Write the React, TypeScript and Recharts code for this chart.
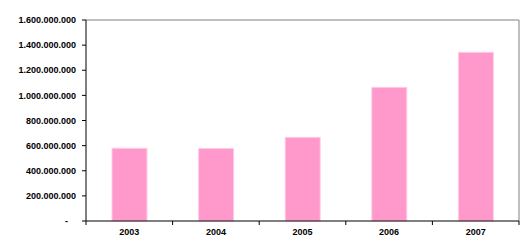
import React from 'react'
import { BarChart, Bar, XAxis, YAxis, CartesianGrid } from 'recharts'

const years = ['2003', '2004', '2005', '2006', '2007']
const amounts = [579000000, 577000000, 666000000, 1064000000, 1343000000]
const yTicks = [0, 200000000, 400000000, 600000000, 800000000, 1000000000, 1200000000, 1400000000, 1600000000]

const data = years.map((year, i) => ({ year, amount: amounts[i] }))

const fmt = (v: number) => (v === 0 ? '-' : String(v).replace(/\B(?=(\d{3})+(?!\d))/g, '.'))

const font = { fontFamily: 'Arial, "Liberation Sans", sans-serif', fontSize: 9, fontWeight: 700 }

function YTick({ x, y, payload }: any) {
  const zero = payload.value === 0
  return (
    <g>
      <line x1={x - 4} x2={x} y1={y} y2={y} stroke="#000" />
      <text x={zero ? x - 18 : x - 10} y={y} dy="0.35em" textAnchor="end" fill="#000" style={font}>
        {fmt(payload.value)}
      </text>
    </g>
  )
}

function XTick({ x, y, payload, index }: any) {
  const half = payload.offset || 0
  return (
    <g>
      <line x1={x - half} x2={x - half} y1={y} y2={y + 4} stroke="#000" />
      {index === years.length - 1 && (
        <line x1={x + half} x2={x + half} y1={y} y2={y + 4} stroke="#000" />
      )}
      <text x={x} y={y + 8} dy="0.71em" textAnchor="middle" fill="#000" style={font}>
        {payload.value}
      </text>
    </g>
  )
}

export default function App() {
  return (
    <div style={{ position: 'absolute', left: 0, top: 0, background: '#fff' }}>
      <BarChart width={531} height={252} data={data} margin={{ top: 20, right: 12, bottom: 11, left: 0 }}>
        {/* grey frame on top and right of the plot area */}
        <CartesianGrid
          stroke="#808080"
          horizontalCoordinatesGenerator={({ offset }: any) => [offset.top]}
          verticalCoordinatesGenerator={({ offset }: any) => [offset.left + offset.width]}
        />
        <XAxis
          dataKey="year"
          height={20}
          axisLine={{ stroke: '#000' }}
          tickLine={false}
          tickSize={0}
          tickMargin={0}
          tick={<XTick />}
          interval={0}
        />
        <YAxis
          width={86}
          domain={[0, 1600000000]}
          ticks={yTicks}
          interval={0}
          axisLine={{ stroke: '#000' }}
          tickLine={false}
          tickSize={0}
          tickMargin={0}
          tick={<YTick />}
        />
        <Bar dataKey="amount" fill="#FF99CC" stroke="#FFCCE6" strokeWidth={1} barSize={35} isAnimationActive={false} />
      </BarChart>
    </div>
  )
}
